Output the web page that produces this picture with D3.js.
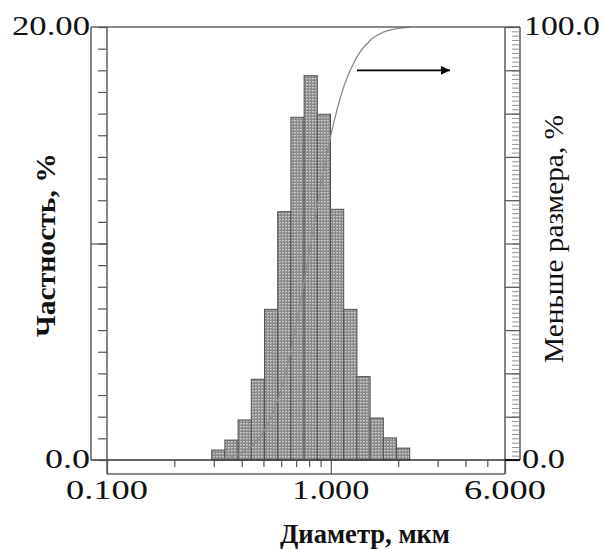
<!DOCTYPE html>
<html>
<head>
<meta charset="utf-8">
<script src="https://cdn.jsdelivr.net/npm/d3@7"></script>
<style>
  body { margin: 0; background: #fff; }
  svg { display: block; }
  text { font-family: "Liberation Serif", "DejaVu Serif", serif; fill: #111; }
</style>
</head>
<body>
<svg width="605" height="549"></svg>
<script>
// size classes (мкм), upper edges of each bin follow the lower ones
const binEdges = [0.2936, 0.3363, 0.3852, 0.4413, 0.5054, 0.5790, 0.6632, 0.7596,
                  0.8701, 0.9967, 1.1417, 1.3078, 1.4980, 1.7160, 1.9656, 2.2515];
// частность, % per bin
const frequency = [0.46, 0.92, 1.85, 3.73, 6.96, 11.47, 15.83, 17.75,
                   15.97, 11.58, 6.96, 3.85, 1.94, 1.02, 0.55];
// меньше размера, % at each edge
const undersize = [0, 0.4, 1.3, 3.2, 6.9, 13.8, 25.2, 41.0,
                   58.7, 74.6, 86.2, 93.1, 96.9, 98.8, 99.6, 100];

const xMajor = [0.1, 1, 6];
const xMajorLabels = ["0.100", "1.000", "6.000"];
const xMinor = [0.2, 0.3, 0.4, 0.5, 0.6, 0.7, 0.8, 0.9, 2, 3, 4, 5];
const leftLabels = ["0.0", "20.00"];
const rightLabels = ["0.0", "100.0"];

let svg = d3.select('svg');

const plot = { left: 107, right: 505, top: 27, bottom: 460, frameBottom: 474 };
const leftSpine = 91, rightSpine = 520;
const lineColor = "#666";

const xScale = d3.scaleLog().domain([0.1, 6]).range([plot.left, plot.right]);
const yLeft = d3.scaleLinear().domain([0, 20]).range([plot.bottom, plot.top]);
const yRight = d3.scaleLinear().domain([0, 100]).range([plot.bottom, plot.top]);

// bar texture
const defs = svg.append("defs");
const pat = defs.append("pattern")
  .attr("id", "dots")
  .attr("width", 3).attr("height", 3)
  .attr("patternUnits", "userSpaceOnUse");
pat.append("rect").attr("width", 3).attr("height", 3).attr("fill", "#8a8a8a");
pat.append("rect").attr("x", 0).attr("y", 0).attr("width", 2).attr("height", 1).attr("fill", "#c6c6c6");
pat.append("rect").attr("x", 0).attr("y", 1).attr("width", 1).attr("height", 1).attr("fill", "#b4b4b4");

const bins = frequency.map((f, i) => ({ x0: binEdges[i], x1: binEdges[i + 1], f: f }));

//bars
svg.append("g").selectAll("rect").data(bins)
  .enter()
  .append("rect")
  .attr("x", d => xScale(d.x0))
  .attr("width", d => xScale(d.x1) - xScale(d.x0))
  .attr("y", d => yLeft(d.f))
  .attr("height", d => plot.bottom - yLeft(d.f))
  .attr("fill", "url(#dots)")
  .attr("stroke", "#505050")
  .attr("stroke-width", 1);

// cumulative curve
const line = d3.line()
  .x((d, i) => xScale(binEdges[i]))
  .y(d => yRight(d))
  .curve(d3.curveMonotoneX);

svg.append("path")
  .datum(undersize)
  .attr("d", line)
  .attr("fill", "none")
  .attr("stroke", "#8c8c8c")
  .attr("stroke-width", 1.3);

// frame
const frame = svg.append("g").attr("stroke", lineColor).attr("stroke-width", 1.6).attr("fill", "none");
frame.append("line").attr("x1", leftSpine).attr("x2", rightSpine).attr("y1", plot.top).attr("y2", plot.top);
frame.append("line").attr("x1", leftSpine).attr("x2", leftSpine).attr("y1", plot.top).attr("y2", plot.bottom);
frame.append("line").attr("x1", plot.left).attr("x2", plot.left).attr("y1", plot.top).attr("y2", plot.frameBottom);
frame.append("line").attr("x1", plot.left).attr("x2", plot.right).attr("y1", plot.frameBottom).attr("y2", plot.frameBottom);
frame.append("line").attr("x1", plot.right).attr("x2", plot.right).attr("y1", plot.top).attr("y2", plot.frameBottom);
frame.append("line").attr("x1", rightSpine).attr("x2", rightSpine).attr("y1", plot.top).attr("y2", plot.bottom);
frame.append("line").attr("x1", leftSpine).attr("x2", rightSpine).attr("y1", plot.bottom).attr("y2", plot.bottom)
  .attr("stroke", "#333");

function tickAxis(axisFn, transform) {
  const g = svg.append("g").attr("transform", transform).call(axisFn);
  g.select(".domain").remove();
  g.selectAll(".tick line").attr("stroke", "#555").attr("stroke-width", 1.2);
  return g;
}

// bottom ticks
tickAxis(d3.axisBottom(xScale).tickValues(xMinor).tickSize(7).tickFormat(""),
  'translate(0,' + plot.bottom + ')');
tickAxis(d3.axisBottom(xScale).tickValues(xMajor).tickSize(plot.frameBottom - plot.bottom).tickFormat(""),
  'translate(0,' + plot.bottom + ')');

// left ticks
tickAxis(d3.axisLeft(yLeft).tickValues(d3.range(0, 21)).tickSize(9).tickFormat(""),
  'translate(' + plot.left + ',0)');
tickAxis(d3.axisLeft(yLeft).tickValues([10]).tickSize(plot.left - leftSpine).tickFormat(""),
  'translate(' + plot.left + ',0)');

// right ticks
tickAxis(d3.axisLeft(yRight).tickValues(d3.range(0, 101)).tickSize(8).tickFormat(""),
  'translate(' + rightSpine + ',0)')
  .selectAll(".tick line").attr("stroke", "#888").attr("stroke-width", 0.9);
tickAxis(d3.axisLeft(yRight).tickValues(d3.range(0, 101, 10)).tickSize(rightSpine - plot.right).tickFormat(""),
  'translate(' + rightSpine + ',0)');
svg.append("line").attr("x1", plot.right).attr("x2", rightSpine)
  .attr("y1", plot.bottom).attr("y2", plot.bottom).attr("stroke", "#111").attr("stroke-width", 2);

// tick labels
const numSize = 27;
const xLabelWidths = [82, 77, 82];
svg.append("g").selectAll("text").data(xMajor)
  .enter().append("text")
  .attr("x", d => xScale(d))
  .attr("y", 499)
  .attr("text-anchor", "middle")
  .attr("font-size", numSize)
  .attr("textLength", (d, i) => xLabelWidths[i])
  .attr("lengthAdjust", "spacingAndGlyphs")
  .text((d, i) => xMajorLabels[i]);

const leftVals = [0, 20];
const leftWidths = [45, 78];
svg.append("g").selectAll("text").data(leftVals)
  .enter().append("text")
  .attr("x", (d, i) => leftSpine - 1 - leftWidths[i])
  .attr("y", d => yLeft(d) + 8)
  .attr("font-size", numSize)
  .attr("textLength", (d, i) => leftWidths[i])
  .attr("lengthAdjust", "spacingAndGlyphs")
  .text((d, i) => leftLabels[i]);

const rightVals = [0, 100];
const rightWidths = [43, 76];
svg.append("g").selectAll("text").data(rightVals)
  .enter().append("text")
  .attr("x", (d, i) => rightSpine + 2 + (i === 1 ? 2 : 0))
  .attr("y", d => yRight(d) + 8)
  .attr("font-size", numSize)
  .attr("textLength", (d, i) => rightWidths[i])
  .attr("lengthAdjust", "spacingAndGlyphs")
  .text((d, i) => rightLabels[i]);

// axis titles
svg.append("text")
  .attr("x", 365).attr("y", 543)
  .attr("text-anchor", "middle")
  .attr("font-size", 28)
  .attr("font-weight", "bold")
  .attr("textLength", 170)
  .attr("lengthAdjust", "spacingAndGlyphs")
  .text("Диаметр, мкм");

svg.append("text")
  .attr("transform", "translate(55,245) rotate(-90)")
  .attr("text-anchor", "middle")
  .attr("font-size", 28)
  .attr("font-weight", "bold")
  .attr("textLength", 184)
  .attr("lengthAdjust", "spacingAndGlyphs")
  .text("Частность, %");

svg.append("text")
  .attr("transform", "translate(563,239) rotate(-90)")
  .attr("text-anchor", "middle")
  .attr("font-size", 27)
  .attr("textLength", 248)
  .attr("lengthAdjust", "spacingAndGlyphs")
  .text("Меньше размера, %");

// arrow pointing to the right axis
defs.append("marker")
  .attr("id", "head")
  .attr("viewBox", "0 0 10 10")
  .attr("refX", 10).attr("refY", 5)
  .attr("markerWidth", 13).attr("markerHeight", 9)
  .attr("markerUnits", "userSpaceOnUse")
  .attr("orient", "auto")
  .append("path").attr("d", "M0,0 L10,5 L0,10 Z").attr("fill", "#000");

svg.append("line")
  .attr("x1", 357).attr("x2", 450)
  .attr("y1", yRight(90)).attr("y2", yRight(90))
  .attr("stroke", "#000")
  .attr("stroke-width", 1.8)
  .attr("marker-end", "url(#head)");
</script>
</body>
</html>
